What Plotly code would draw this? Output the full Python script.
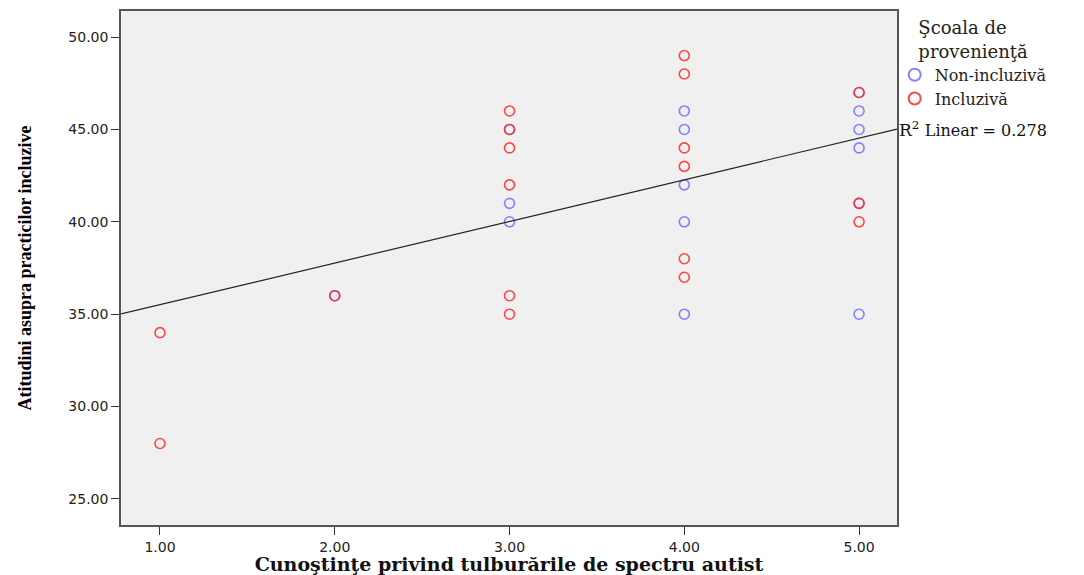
import plotly.graph_objects as go

# Data
non_x = [2, 3, 3, 3, 4, 4, 4, 4, 4, 5, 5, 5, 5, 5, 5]
non_y = [36, 45, 41, 40, 46, 45, 42, 40, 35, 47, 46, 45, 44, 41, 35]
inc_x = [1, 1, 2, 3, 3, 3, 3, 3, 3, 4, 4, 4, 4, 4, 4, 5, 5, 5]
inc_y = [34, 28, 36, 46, 45, 44, 42, 36, 35, 49, 48, 44, 43, 38, 37, 47, 41, 40]
fit_intercept = 33.26
fit_slope = 2.254
r2_text = "0.278"

x_ticks = [1, 2, 3, 4, 5]
y_ticks = [25, 30, 35, 40, 45, 50]
x_range = [0.777, 5.217]
y_range = [23.59, 51.41]

blue = "rgba(110,110,255,0.85)"
red = "rgba(255,40,40,0.85)"

fig = go.Figure()
fig.add_trace(go.Scatter(
    x=non_x, y=non_y, mode="markers", name="Non-incluzivă",
    marker=dict(symbol="circle-open", size=10, color=blue, line=dict(width=1.6, color=blue)),
))
fig.add_trace(go.Scatter(
    x=inc_x, y=inc_y, mode="markers", name="Incluzivă",
    marker=dict(symbol="circle-open", size=10, color=red, line=dict(width=1.6, color=red)),
))
fit_x = list(x_range)
fit_y = [fit_intercept + fit_slope * v for v in fit_x]
fig.add_trace(go.Scatter(
    x=fit_x, y=fit_y, mode="lines", showlegend=False,
    line=dict(color="#222222", width=1.2), hoverinfo="skip",
))

fig.add_annotation(
    xref="paper", yref="y", x=1.0, y=fit_intercept + fit_slope * x_range[1],
    xanchor="left", yanchor="middle", showarrow=False,
    text="R<sup>2</sup> <span style='font-size:16px'>Linear = " + r2_text + "</span>",
    font=dict(family="DejaVu Serif, serif", size=17, color="#111111"),
)

axis_common = dict(
    showgrid=False, zeroline=False, showline=True, linecolor="#555555", linewidth=1.5,
    mirror=True, ticks="outside", ticklen=8, tickcolor="#333333", tickwidth=1.2,
    tickformat=".2f", tickfont=dict(family="DejaVu Sans, sans-serif", size=14, color="#222222"),
    automargin=False,
)

fig.update_layout(
    width=1076, height=567,
    margin=dict(l=113, r=187, t=3, b=50),
    paper_bgcolor="white", plot_bgcolor="#f0f0f0",
    xaxis=dict(range=x_range, tickvals=x_ticks, **axis_common,
               title=dict(text="<b>Cunoştinţe privind tulburările de spectru autist</b>",
                          font=dict(family="DejaVu Serif, serif", size=19, color="#111111"),
                          standoff=9)),
    yaxis=dict(range=y_range, tickvals=y_ticks, **axis_common,
               title=dict(text="<b>Atitudini asupra practicilor incluzive</b>",
                          font=dict(family="Liberation Serif, serif", size=18, color="#000000"),
                          standoff=32)),
    legend=dict(
        x=0.997, y=1.0, xanchor="left", yanchor="top",
        bgcolor="rgba(0,0,0,0)", itemsizing="constant",
        title=dict(text="Şcoala de<br>provenienţă", side="top center",
                   font=dict(family="DejaVu Serif, serif", size=18, color="#222222")),
        font=dict(family="DejaVu Serif, serif", size=16, color="#222222"),
        tracegroupgap=0, itemwidth=30,
    ),
    showlegend=True,
)

fig.write_html("out.html")
